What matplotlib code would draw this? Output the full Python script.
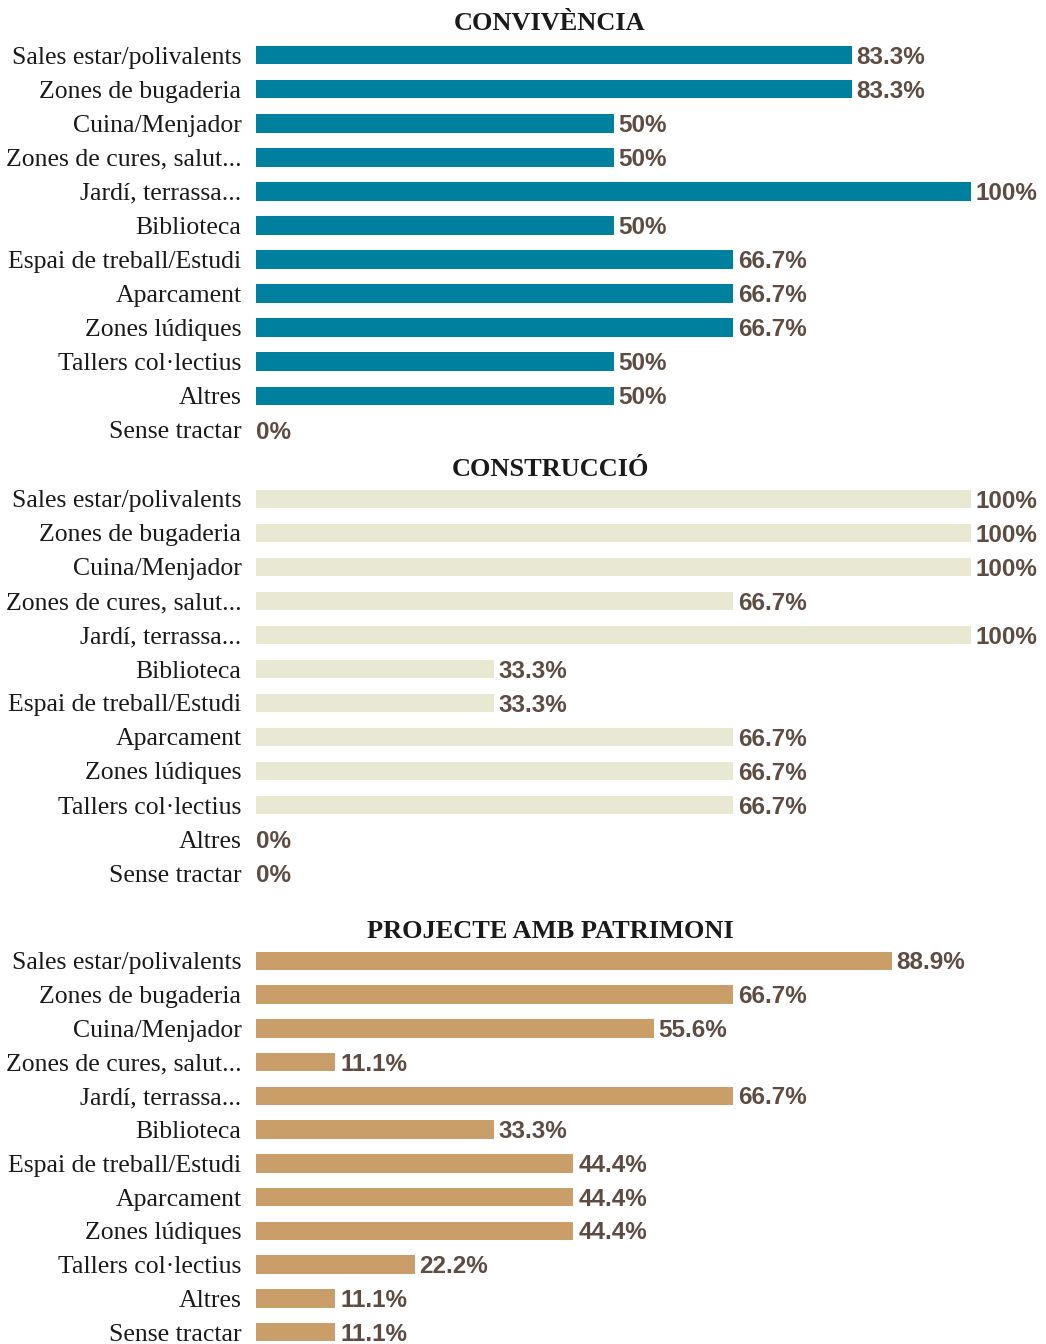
import matplotlib
matplotlib.use("Agg")
import matplotlib.pyplot as plt

# Categories and values (percent)
categories = ["Sales estar/polivalents", "Zones de bugaderia", "Cuina/Menjador",
              "Zones de cures, salut...", "Jardí, terrassa...", "Biblioteca",
              "Espai de treball/Estudi", "Aparcament", "Zones lúdiques",
              "Tallers col·lectius", "Altres", "Sense tractar"]

convivencia = [83.3, 83.3, 50, 50, 100, 50, 66.7, 66.7, 66.7, 50, 50, 0]
construccio = [100, 100, 100, 66.7, 100, 33.3, 33.3, 66.7, 66.7, 66.7, 0, 0]
patrimoni = [88.9, 66.7, 55.6, 11.1, 66.7, 33.3, 44.4, 44.4, 44.4, 22.2, 11.1, 11.1]

titles = ["CONVIVÈNCIA", "CONSTRUCCIÓ", "PROJECTE AMB PATRIMONI"]
colors = ["#00809f", "#e9e8d3", "#c99e69"]

W, H = 1046, 1344
fig = plt.figure(figsize=(W / 100, H / 100), dpi=100)

# panel geometry in pixels: (top of axes, bottom of axes, title y)
panels = [(38, 447, 24), (482, 890, 470), (944, 1349, 932)]
x0, x1 = 256, 971

def fmt(v):
    s = f"{v:.1f}"
    if s.endswith(".0"):
        s = s[:-2]
    return s + "%"

for (top, bot, ty), title, vals, col in zip(panels, titles,
                                            [convivencia, construccio, patrimoni], colors):
    ax = fig.add_axes([x0 / W, 1 - bot / H, (x1 - x0) / W, (bot - top) / H])
    ypos = list(range(len(categories)))
    ax.barh(ypos, vals, height=0.55, color=col)
    ax.set_xlim(0, 100)
    ax.set_ylim(len(categories) - 0.5, -0.5)
    ax.set_yticks(ypos)
    ax.set_yticklabels(categories, fontsize=18.5, family="Liberation Serif", color="#1a1a1a")
    ax.tick_params(axis="y", length=0, pad=10.5)
    ax.set_xticks([])
    for s in ax.spines.values():
        s.set_visible(False)
    for y, v in zip(ypos, vals):
        ax.annotate(fmt(v), (v, y), xytext=(3.5 if v > 0 else 0, -1.5), textcoords="offset points",
                    ha="left", va="center", fontsize=17.5, fontweight="bold",
                    family="Liberation Sans", color="#5e4c42", clip_on=False)
    fig.text(550 / W, 1 - ty / H, title, ha="center", va="center", fontsize=19,
             fontweight="bold", family="Liberation Serif", color="#1a1a1a")

fig.savefig("out.png", dpi=100)
